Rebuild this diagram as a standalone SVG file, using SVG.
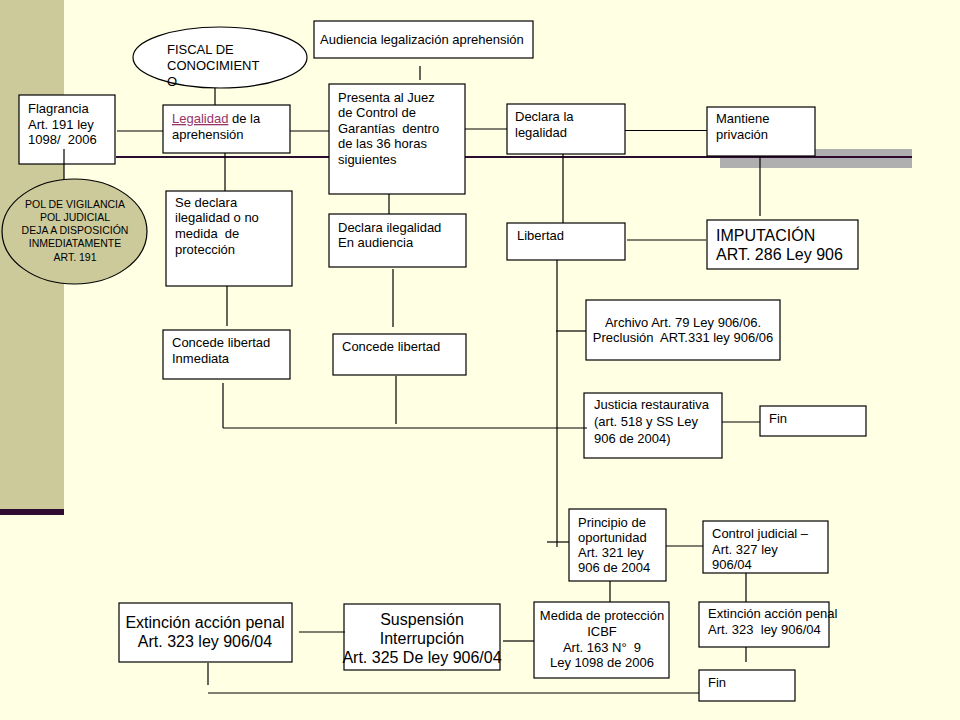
<svg xmlns="http://www.w3.org/2000/svg" width="960" height="720" viewBox="0 0 960 720">
<style>
text{font-family:"Liberation Sans",Arial,sans-serif;font-size:13px;fill:#000;white-space:pre}
.big{font-size:16px}
.pol{font-size:10.5px}
.mid{text-anchor:middle}
.box{fill:#fff;stroke:#000;stroke-width:1.2}
.conn line,.conn polyline{stroke:#000;stroke-width:1.2;fill:none}
.link{fill:#993366;text-decoration:underline}
</style>
<rect x="0" y="0" width="960" height="720" fill="#FFFFE3"/>
<g id="decor">
<rect x="0" y="0" width="64" height="509" fill="#CCCA9A"/>
<rect x="0" y="509" width="64" height="6" fill="#2E0B30"/>
<rect x="720" y="149" width="192" height="19" fill="#AFAFAF"/>
<line x1="116" y1="157" x2="912" y2="157" stroke="#2E0B30" stroke-width="2.2"/>
</g>
<g id="n-fiscal"><ellipse cx="220" cy="57.5" rx="87" ry="30.5" class="box"/>
<text x="167" y="54">FISCAL DE</text><text x="167" y="70">CONOCIMIENT</text><text x="167" y="86">O</text></g>
<g id="n-audiencia"><rect x="314" y="21" width="219" height="37" class="box"/>
<text x="320" y="44">Audiencia legalización aprehensión</text></g>
<g id="n-flagrancia"><rect x="19" y="95" width="96" height="69" class="box"/>
<text x="28" y="113">Flagrancia</text><text x="28" y="129">Art. 191 ley</text><text x="28" y="144">1098/  2006</text></g>
<g id="n-legalidad"><rect x="163" y="105" width="127" height="48" class="box"/>
<text x="172" y="123"><tspan class="link">Legalidad</tspan> de la</text><text x="172" y="139">aprehensión</text></g>
<g id="n-presenta"><rect x="329" y="84" width="136" height="110" class="box"/>
<text x="338" y="102">Presenta al Juez</text><text x="338" y="117">de Control de</text><text x="338" y="133">Garantías  dentro</text><text x="338" y="148">de las 36 horas</text><text x="338" y="164">siguientes</text></g>
<g id="n-declara-legalidad"><rect x="507" y="104" width="118" height="50" class="box"/>
<text x="515" y="121">Declara la</text><text x="515" y="137">legalidad</text></g>
<g id="n-mantiene"><rect x="707" y="107" width="108" height="49" class="box"/>
<text x="716" y="123">Mantiene</text><text x="716" y="139">privación</text></g>
<g id="n-pol"><ellipse cx="74.5" cy="231.5" rx="72.5" ry="52.5" fill="#CCCA9A" stroke="#000" stroke-width="1.2"/>
<text class="pol mid" x="75" y="208">POL DE VIGILANCIA</text><text class="pol mid" x="75" y="221">POL JUDICIAL</text><text class="pol mid" x="75" y="234">DEJA A DISPOSICIÓN</text><text class="pol mid" x="75" y="247">INMEDIATAMENTE</text><text class="pol mid" x="75" y="261">ART. 191</text></g>
<g id="n-se-declara"><rect x="166" y="191" width="126" height="95" class="box"/>
<text x="175" y="207">Se declara</text><text x="175" y="222">ilegalidad o no</text><text x="175" y="238">medida  de</text><text x="175" y="254">protección</text></g>
<g id="n-declara-ilegalidad"><rect x="329" y="214" width="137" height="53" class="box"/>
<text x="338" y="232">Declara ilegalidad</text><text x="338" y="247">En audiencia</text></g>
<g id="n-libertad"><rect x="507" y="223" width="118" height="37" class="box"/>
<text x="517" y="240">Libertad</text></g>
<g id="n-imputacion"><rect x="707" y="220" width="151" height="49" class="box"/>
<text class="big" x="716" y="241">IMPUTACIÓN</text><text class="big" x="716" y="260">ART. 286 Ley 906</text></g>
<g id="n-archivo"><rect x="586" y="300" width="194" height="60" class="box"/>
<text class="mid" x="683" y="327">Archivo Art. 79 Ley 906/06.</text><text class="mid" x="683" y="342">Preclusión  ART.331 ley 906/06</text></g>
<g id="n-concede-inmediata"><rect x="163" y="330" width="127" height="49" class="box"/>
<text x="172" y="347">Concede libertad</text><text x="172" y="363">Inmediata</text></g>
<g id="n-concede"><rect x="333" y="334" width="133" height="41" class="box"/>
<text x="342" y="351">Concede libertad</text></g>
<g id="n-justicia"><rect x="584" y="393" width="138" height="65" class="box"/>
<text x="594" y="409">Justicia restaurativa</text><text x="594" y="426">(art. 518 y SS Ley</text><text x="594" y="443">906 de 2004)</text></g>
<g id="n-fin1"><rect x="760" y="406" width="106" height="30" class="box"/>
<text x="769" y="423">Fin</text></g>
<g id="n-principio"><rect x="569" y="509" width="97" height="72" class="box"/>
<text x="578" y="527">Principio de</text><text x="578" y="542">oportunidad</text><text x="578" y="557">Art. 321 ley</text><text x="578" y="572">906 de 2004</text></g>
<g id="n-control"><rect x="703" y="521" width="125" height="52" class="box"/>
<text x="712" y="538">Control judicial –</text><text x="712" y="554">Art. 327 ley</text><text x="712" y="569">906/04</text></g>
<g id="n-extincion-left"><rect x="119" y="603" width="173" height="59" class="box"/>
<text class="big mid" x="205" y="628">Extinción acción penal</text><text class="big mid" x="205" y="647">Art. 323 ley 906/04</text></g>
<g id="n-suspension"><rect x="344" y="604" width="156" height="66" class="box"/>
<text class="big mid" x="422" y="625">Suspensión</text><text class="big mid" x="422" y="644">Interrupción</text><text class="big mid" x="422" y="663">Art. 325 De ley 906/04</text></g>
<g id="n-medida"><rect x="534" y="602" width="135" height="76" class="box"/>
<text class="mid" x="602" y="620">Medida de protección</text><text class="mid" x="602" y="636">ICBF</text><text class="mid" x="602" y="652">Art. 163 N°  9</text><text class="mid" x="602" y="667">Ley 1098 de 2006</text></g>
<g id="n-extincion-right"><rect x="699" y="602" width="130" height="45" class="box"/>
<text x="708" y="618">Extinción acción penal</text><text x="708" y="634">Art. 323  ley 906/04</text></g>
<g id="n-fin2"><rect x="699" y="670" width="96" height="31" class="box"/>
<text x="708" y="687">Fin</text></g>
<g id="connectors" class="conn">
<line x1="215" y1="88" x2="215" y2="105"/>
<line x1="420" y1="66" x2="420" y2="80"/>
<line x1="117" y1="131" x2="163" y2="131"/>
<line x1="290" y1="131" x2="329" y2="131"/>
<line x1="465" y1="129" x2="507" y2="129"/>
<line x1="625" y1="130.5" x2="707" y2="130.5"/>
<line x1="64" y1="149" x2="64" y2="180"/>
<line x1="225" y1="153" x2="225" y2="191"/>
<line x1="389" y1="194" x2="389" y2="214"/>
<line x1="563" y1="154" x2="563" y2="223"/>
<line x1="760" y1="156" x2="760" y2="216"/>
<line x1="627" y1="240" x2="706" y2="240"/>
<line x1="227" y1="286" x2="227" y2="326"/>
<line x1="393" y1="269" x2="393" y2="327"/>
<line x1="557" y1="260" x2="557" y2="547"/>
<line x1="556" y1="331" x2="586" y2="331"/>
<line x1="223" y1="383" x2="223" y2="428"/>
<line x1="396" y1="376" x2="396" y2="424"/>
<line x1="223" y1="428" x2="587" y2="428"/>
<line x1="722" y1="422" x2="760" y2="422"/>
<line x1="547" y1="542" x2="569" y2="542"/>
<line x1="666" y1="546" x2="703" y2="546"/>
<line x1="610" y1="581" x2="610" y2="602"/>
<line x1="746" y1="573" x2="746" y2="602"/>
<line x1="746" y1="647" x2="746" y2="662"/>
<line x1="299" y1="632" x2="345" y2="632"/>
<line x1="503" y1="641" x2="534" y2="641"/>
<line x1="208" y1="663" x2="208" y2="685"/>
<line x1="208" y1="693" x2="699" y2="693"/>
</g>
</svg>
